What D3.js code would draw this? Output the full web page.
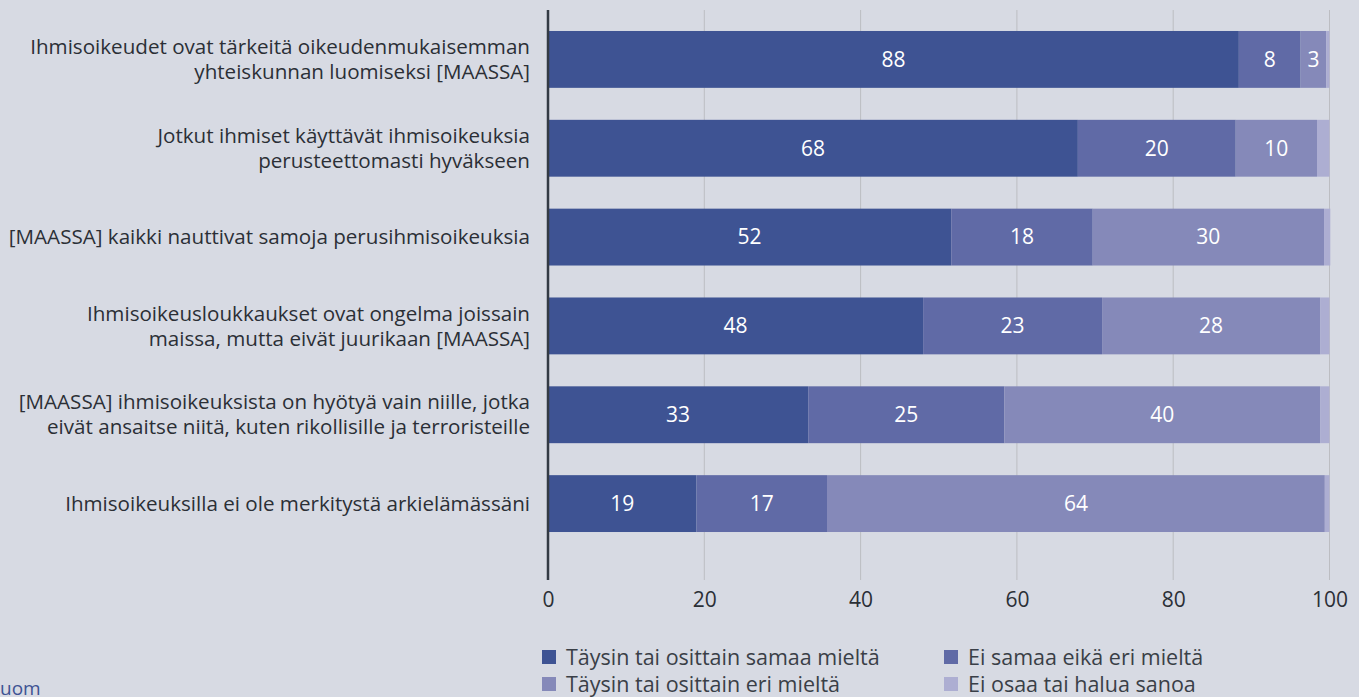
<!DOCTYPE html>
<html>
<head>
<meta charset="utf-8">
<script src="https://cdn.jsdelivr.net/npm/d3@7"></script>
<style>
  body { margin: 0; background: #d7dae3; }
  svg { display: block; font-family: "Open Sans", sans-serif; }
</style>
</head>
<body>
<svg id="chart" width="1359" height="697"></svg>
<script>
var categories = [
    ["Ihmisoikeudet ovat tärkeitä oikeudenmukaisemman", "yhteiskunnan luomiseksi [MAASSA]"],
    ["Jotkut ihmiset käyttävät ihmisoikeuksia", "perusteettomasti hyväkseen"],
    ["[MAASSA] kaikki nauttivat samoja perusihmisoikeuksia"],
    ["Ihmisoikeusloukkaukset ovat ongelma joissain", "maissa, mutta eivät juurikaan [MAASSA]"],
    ["[MAASSA] ihmisoikeuksista on hyötyä vain niille, jotka", "eivät ansaitse niitä, kuten rikollisille ja terroristeille"],
    ["Ihmisoikeuksilla ei ole merkitystä arkielämässäni"]
];
var seriesNames = ["Täysin tai osittain samaa mieltä", "Ei samaa eikä eri mieltä",
                   "Täysin tai osittain eri mieltä", "Ei osaa tai halua sanoa"];
var agree    = [88.4, 67.8, 51.6, 48.0, 33.3, 19.0];
var neutral  = [7.9, 20.2, 18.1, 22.9, 25.1, 16.7];
var disagree = [3.3, 10.4, 29.6, 27.9, 40.4, 63.7];
var dontKnow = [0.4, 1.6, 0.8, 1.2, 1.2, 0.6];
var xTicks = [0, 20, 40, 60, 80, 100];
var colors = ["#3e5393", "#606aa6", "#8589b9", "#adaed2"];

var svg = d3.select("#chart");
var margin = {left: 548, top: 10};
var plotW = 781.5, plotH = 570;

var rows = categories.map(function(c, i) {
    return {i: i, s0: agree[i], s1: neutral[i], s2: disagree[i], s3: dontKnow[i]};
});
var keys = ["s0", "s1", "s2", "s3"];
var stack = d3.stack().keys(keys)(rows);

var x = d3.scaleLinear().domain([0, 100]).range([0, plotW]);
var y = d3.scaleBand()
    .domain(d3.range(categories.length))
    .range([5, 538])
    .paddingInner(0.36)
    .paddingOuter(0.18);

var g = svg.append("g").attr("transform", "translate(" + margin.left + "," + margin.top + ")");

// grid lines
g.append("g")
    .selectAll("line")
    .data(xTicks.slice(1))
    .enter().append("line")
    .attr("x1", function(d) { return x(d); })
    .attr("x2", function(d) { return x(d); })
    .attr("y1", 0)
    .attr("y2", plotH)
    .attr("stroke", "#bcbdc2")
    .attr("stroke-width", 1);

// bars
var layer = g.append("g").selectAll("g")
    .data(stack)
    .enter().append("g")
    .attr("fill", function(d, i) { return colors[i]; });

layer.selectAll("rect")
    .data(function(d) { return d; })
    .enter().append("rect")
    .attr("x", function(d) { return x(d[0]); })
    .attr("width", function(d) { return x(d[1]) - x(d[0]); })
    .attr("y", function(d) { return y(d.data.i); })
    .attr("height", y.bandwidth());

// value labels
layer.selectAll("text")
    .data(function(d) { return d.filter(function(v) { return v[1] - v[0] >= 2; }); })
    .enter().append("text")
    .attr("x", function(d) { return (x(d[0]) + x(d[1])) / 2; })
    .attr("y", function(d) { return y(d.data.i) + y.bandwidth() / 2; })
    .attr("dy", "0.35em")
    .attr("text-anchor", "middle")
    .attr("fill", "#ffffff")
    .style("font-size", "21px")
    .text(function(d) { return Math.round(d[1] - d[0]); });

// axis line
g.append("line")
    .attr("x1", 0).attr("x2", 0)
    .attr("y1", 0).attr("y2", plotH)
    .attr("stroke", "#333a44")
    .attr("stroke-width", 2.5);

// x tick labels
var xAxis = g.append("g")
    .attr("transform", "translate(0," + plotH + ")")
    .call(d3.axisBottom(x).tickValues(xTicks).tickSize(0).tickPadding(12));
xAxis.select(".domain").remove();
xAxis.selectAll("text")
    .attr("fill", "#2b2f36")
    .style("font-size", "21px")
    .style("font-family", "Open Sans, sans-serif");

// category labels
var lineH = 25;
var cat = svg.append("g").selectAll("text")
    .data(categories)
    .enter().append("text")
    .attr("text-anchor", "end")
    .attr("fill", "#2b2f36")
    .style("font-size", "20.6px")
    .attr("transform", function(d, i) {
        return "translate(530," + (margin.top + y(i) + y.bandwidth() / 2) + ")";
    });
cat.selectAll("tspan")
    .data(function(d) { return d; })
    .enter().append("tspan")
    .attr("x", 0)
    .attr("y", function(d, j, nodes) { return (j - (nodes.length - 1) / 2) * lineH; })
    .attr("dy", "0.35em")
    .text(function(d) { return d; });

// legend
var legendPos = [[542, 657], [944, 657], [542, 684], [944, 684]];
var leg = svg.append("g").selectAll("g")
    .data(seriesNames)
    .enter().append("g")
    .attr("transform", function(d, i) { return "translate(" + legendPos[i][0] + "," + legendPos[i][1] + ")"; });
leg.append("rect")
    .attr("x", 0).attr("y", -7)
    .attr("width", 14).attr("height", 14)
    .attr("fill", function(d, i) { return colors[i]; });
leg.append("text")
    .attr("x", 24)
    .attr("dy", "0.35em")
    .attr("fill", "#3a3f47")
    .style("font-size", "21.5px")
    .text(function(d) { return d; });

// footer text
svg.append("text")
    .attr("x", 0)
    .attr("y", 695)
    .attr("fill", "#3e5393")
    .style("font-size", "19px")
    .text("uom");
</script>
</body>
</html>
